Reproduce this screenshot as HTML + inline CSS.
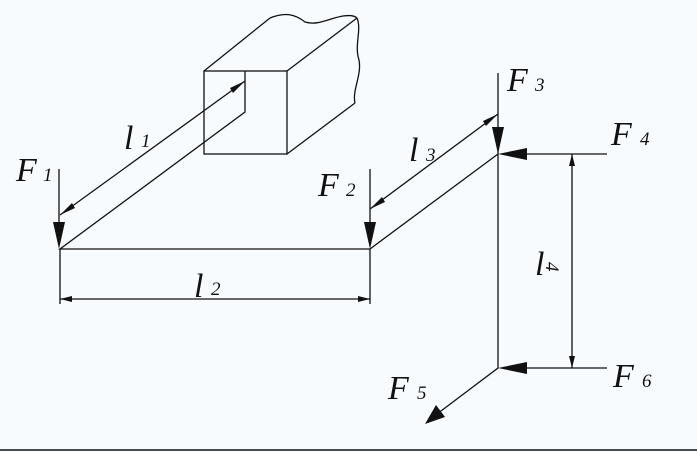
<!DOCTYPE html>
<html><head><style>
body{margin:0;background:#f8fbfd;}
svg{display:block}
text{font-family:"Liberation Serif",serif;font-style:italic;fill:#111}
.b{font-size:34px}.s{font-size:19px}
</style></head><body>
<svg width="697" height="452" viewBox="0 0 697 452" xmlns="http://www.w3.org/2000/svg">
<g stroke="#111" stroke-width="1.3" fill="none">
<rect x="204" y="71" width="83" height="83"/>
<path d="M204 71 L270 18 M287 71 L357 18 M287 154 L355 103"/>
<path d="M270 18 C285 12 295 14 305 22 C318 26 330 18 343 16 C350 15 355 16 357 18"/>
<path d="M357 18 C362 30 354 45 359 60 C362 75 352 90 355 103"/>
<path d="M245 71 L245 112 L60 249 L370 249 L498 154"/>
<path d="M498 73 L498 368 L437 414"/>
<path d="M59 169 L59 225 M370 169 L370 225"/>
<path d="M607 154 L525 154 M607 368 L525 368"/>
<path d="M60 215 L245 81 M370 209 L498 114"/>
<path d="M60 249 L60 304 M370 249 L370 304 M60 299 L370 299"/>
<path d="M572 154 L572 368"/>
</g>
<g fill="#111">
<polygon points="53,222 65,222 59,249"/>
<polygon points="364,222 376,222 370,249"/>
<polygon points="492,127 504,127 498,154"/>
<polygon points="527,148 527,160 498,154"/>
<polygon points="527,362 527,374 498,368"/>
<polygon points="425,424 436,405 445,417"/>
<polygon points="60,215 72,203 75,208"/>
<polygon points="245,81 233,93 230,88"/>
<polygon points="370,209 382,197 385,202"/>
<polygon points="498,114 486,126 483,121"/>
<polygon points="60,299 72,296 72,302"/>
<polygon points="370,299 358,296 358,302"/>
<polygon points="572,154 569,166 575,166"/>
<polygon points="572,368 569,356 575,356"/>
</g>
<text x="16" y="181" class="b">F</text><text x="43" y="181" class="s">1</text>
<text x="124" y="149" class="b">l</text><text x="141" y="147" class="s">1</text>
<text x="318" y="196" class="b">F</text><text x="346" y="196" class="s">2</text>
<text x="194" y="297" class="b">l</text><text x="211" y="295" class="s">2</text>
<text x="409" y="161" class="b">l</text><text x="426" y="161" class="s">3</text>
<text x="507" y="91" class="b">F</text><text x="535" y="91" class="s">3</text>
<text x="611" y="145" class="b">F</text><text x="640" y="145" class="s">4</text>
<text x="613" y="387" class="b">F</text><text x="642" y="387" class="s">6</text>
<text x="388" y="399" class="b">F</text><text x="417" y="399" class="s">5</text>
<text x="535" y="275" class="b">l</text>
<text x="0" y="0" class="s" transform="translate(546,262) rotate(90)">4</text>
<line x1="0" y1="450" x2="697" y2="450" stroke="#111" stroke-width="1.5"/>
</svg>
</body></html>
